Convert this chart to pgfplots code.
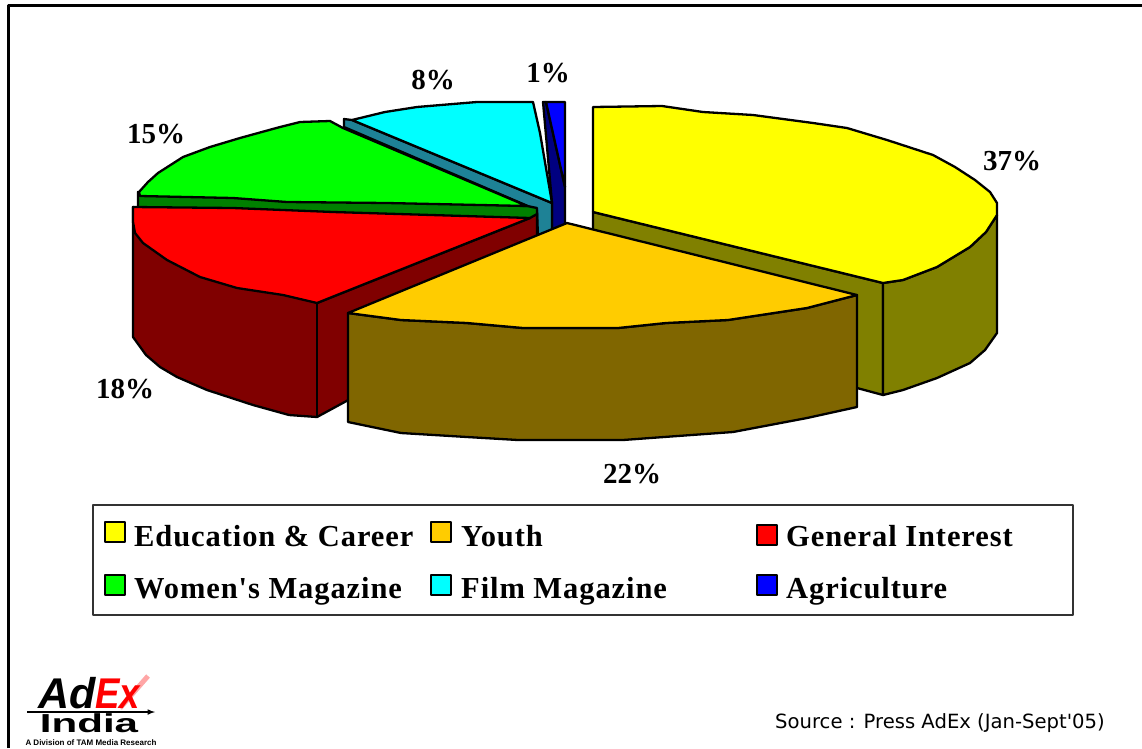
\documentclass[border=0pt]{standalone}
\usepackage{pgfplots}
\pgfplotsset{compat=1.18}
\usepackage{fontspec}
\setmainfont{Liberation Serif}
\newfontfamily\srcfont{DejaVu Sans}
\newfontfamily\logofont{Liberation Sans}
\newfontfamily\legfont[LetterSpace=3]{Liberation Serif}
\definecolor{yTop}{HTML}{FFFF00}\definecolor{ySide}{HTML}{808000}
\definecolor{oTop}{HTML}{FFCC00}\definecolor{oSide}{HTML}{806600}
\definecolor{rTop}{HTML}{FF0000}\definecolor{rSide}{HTML}{800000}
\definecolor{gTop}{HTML}{00FF00}\definecolor{gSide}{HTML}{008000}
\definecolor{cTop}{HTML}{00FFFF}\definecolor{cSide}{HTML}{1E8296}
\definecolor{bTop}{HTML}{0000FF}\definecolor{bSide}{HTML}{000080}
\begin{document}
\begin{tikzpicture}
\begin{axis}[
  scale only axis, width=1142pt, height=748pt,
  xmin=0, xmax=1142, ymin=0, ymax=748, y dir=reverse,
  hide axis, clip=false, axis line style={draw=none},
  every axis plot/.append style={line join=round, line width=2.3pt},
]
% frame
\addplot[draw=black, line width=3pt] coordinates {(8.5,748) (8.5,5.5) (1142,5.5)};
% agriculture
\addplot[fill=bSide, draw=black] coordinates {(543,102) (546,102) (565,187) (565,226) (552,232) (552,203)} -- cycle;
\addplot[fill=bTop, draw=black] coordinates {(546,102) (565,102) (565,187)} -- cycle;
% film magazine
\addplot[fill=cSide, draw=black] coordinates {(344,119) (352,120) (552,203) (552,230) (538,238) (537,210) (344,127)} -- cycle;
\addplot[fill=cTop, draw=black] coordinates {(352,120) (385,112) (417,107) (477,102) (533,102) (540,133) (552,203)} -- cycle;
% women's magazine
\addplot[fill=gSide, draw=black] coordinates {(138,192) (138,210) (537,220) (537,208) (527,206)} -- cycle;
\addplot[fill=gTop, draw=black] coordinates {(139,192) (148,182) (158,173) (183,157) (210,147) (240,138) (280,127) (300,122) (330,121) (343,128) (527,206) (387,203) (287,202) (233,198) (140,196)} -- cycle;
% general interest
\addplot[fill=rSide, draw=black] coordinates {(133,207) (133,337) (146,355) (160,367) (177,377) (207,390) (253,405) (289,415) (317,417) (352,398) (537,240) (537,214) (530,218) (317,303)} -- cycle;
\addplot[draw=black] coordinates {(317,303) (317,417)};
\addplot[fill=rTop, draw=black] coordinates {(133,207) (233,208) (333,212) (530,218) (317,303) (283,295) (237,288) (200,277) (167,260) (143,243) (135,233) (133,222)} -- cycle;
% education & career
\addplot[fill=ySide, draw=black] coordinates {(593,212) (883,283) (883,395) (857,388) (593,300)} -- cycle;
\addplot[fill=ySide, draw=black] coordinates {(883,283) (903,280) (937,267) (970,247) (986,232) (997,215) (997,333) (985,350) (970,363) (937,378) (903,390) (883,395)} -- cycle;
\addplot[fill=yTop, draw=black] coordinates {(593,107) (662,106) (703,112) (753,115) (813,123) (847,128) (887,140) (933,155) (955,167) (975,180) (990,192) (997,203) (997,215) (986,232) (970,247) (937,267) (903,280) (883,283) (593,212)} -- cycle;
% youth
\addplot[fill=oSide, draw=black] coordinates {(348,313) (401,320) (467,323) (523,328) (618,328) (666,323) (728,320) (807,308) (857,295) (857,407) (807,418) (733,432) (664,437) (623,440) (518,440) (467,437) (401,433) (348,422)} -- cycle;
\addplot[fill=oTop, draw=black] coordinates {(567,223) (857,295) (807,308) (728,320) (666,323) (618,328) (523,328) (467,323) (401,320) (348,313)} -- cycle;
% legend box
\addplot[fill=white, draw=black!80, line width=1.5pt] coordinates {(93,505) (1073,505) (1073,615) (93,615)} -- cycle;
\addplot[fill=yTop, draw=black, line width=2.5pt] coordinates {(105,522) (125,522) (125,542) (105,542)} -- cycle;
\addplot[fill=oTop, draw=black, line width=2.5pt] coordinates {(431,522) (451,522) (451,542) (431,542)} -- cycle;
\addplot[fill=rTop, draw=black, line width=2.5pt] coordinates {(757,525) (777,525) (777,545) (757,545)} -- cycle;
\addplot[fill=gTop, draw=black, line width=2.5pt] coordinates {(105,575) (125,575) (125,595) (105,595)} -- cycle;
\addplot[fill=cTop, draw=black, line width=2.5pt] coordinates {(431,575) (451,575) (451,595) (431,595)} -- cycle;
\addplot[fill=bTop, draw=black, line width=2.5pt] coordinates {(757,575) (777,575) (777,595) (757,595)} -- cycle;
% labels
\tikzset{pct/.style={font=\fontsize{29}{29}\selectfont\bfseries, inner sep=0pt, anchor=base}}
\node[pct] at (axis cs:1012,170) {37\%};
\node[pct] at (axis cs:632,483) {22\%};
\node[pct] at (axis cs:125,398) {18\%};
\node[pct] at (axis cs:156,143) {15\%};
\node[pct] at (axis cs:433,89) {8\%};
\node[pct] at (axis cs:548,82) {1\%};
\tikzset{leg/.style={font=\legfont\fontsize{30.5}{30.5}\selectfont\bfseries, inner sep=0pt, anchor=base west}}
\node[leg] at (axis cs:134,546) {Education \& Career};
\node[leg] at (axis cs:461,546) {Youth};
\node[leg] at (axis cs:786,546) {General Interest};
\node[leg] at (axis cs:134,598) {Women's Magazine};
\node[leg] at (axis cs:461,598) {Film Magazine};
\node[leg] at (axis cs:786,598) {Agriculture};
\node[font=\srcfont\fontsize{19.6}{19.6}\selectfont, inner sep=0pt, anchor=base west] at (axis cs:775,728) {Source : Press AdEx (Jan-Sept'05)};
% logo
\addplot[draw=red!35, line width=5pt] coordinates {(120,708) (148,676)};
\node[font=\logofont\fontsize{43}{43}\selectfont\bfseries\itshape, inner sep=0pt, anchor=base west] at (axis cs:38,708) {Ad};
\node[font=\logofont\fontsize{43}{43}\selectfont\bfseries\itshape, text=red, inner sep=0pt, anchor=base west] at (axis cs:95,708) {\scalebox{0.85}[1]{Ex}};
\addplot[draw=black, line width=1.5pt, -latex] coordinates {(27,712) (155,712)};
\node[font=\logofont\fontsize{26}{26}\selectfont\bfseries, inner sep=0pt, anchor=base] at (axis cs:89,732.5) {\scalebox{1.62}[1]{India}};
\node[font=\logofont\fontsize{8}{8}\selectfont\bfseries, inner sep=0pt, anchor=base] at (axis cs:91,745.5) {A Division of TAM Media Research};
\end{axis}
\pgfresetboundingbox
\path[use as bounding box] (0,0) rectangle (1142pt,748pt);
\end{tikzpicture}
\end{document}
